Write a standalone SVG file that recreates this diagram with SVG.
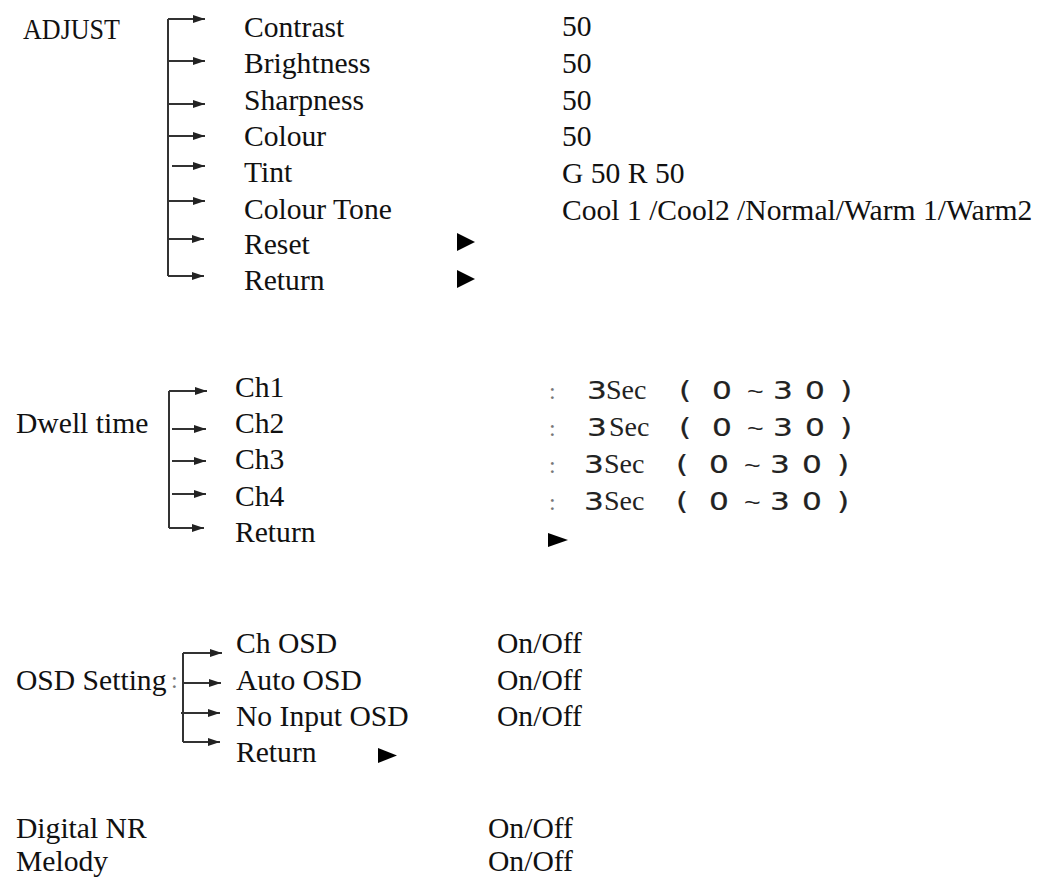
<svg xmlns="http://www.w3.org/2000/svg" width="1039" height="879" viewBox="0 0 1039 879">
<style>
text{font-family:"Liberation Serif","Times New Roman",serif;font-size:29.6px;fill:#111}
.num{font-family:"DejaVu Sans","Liberation Sans",sans-serif;font-size:24px;fill:#222;stroke:#222;stroke-width:0.2}
.sec{font-family:"Liberation Serif",serif;font-size:28px;fill:#222}
.til{font-family:"Liberation Sans",sans-serif;font-size:22px;fill:#222}
.col{font-size:24px;fill:#777}
.ln{stroke:#333;stroke-width:2;fill:none}
.ar{stroke:#333;stroke-width:2;fill:none;marker-end:url(#ah)}
.tri{fill:#000}
</style>
<defs>
<marker id="ah" markerUnits="userSpaceOnUse" viewBox="0 0 12 8" refX="12" refY="4" markerWidth="12" markerHeight="8" orient="auto">
<path d="M0,0 L12,4 L0,8 Z" fill="#222"/>
</marker>
</defs>
<rect width="1039" height="879" fill="#fff"/>

<g id="connectors">
<path class="ln" d="M168,19 V276"/>
<path class="ar" d="M168,19 H205"/>
<path class="ar" d="M168,61 H205"/>
<path class="ar" d="M168,104 H205"/>
<path class="ar" d="M168,136 H205"/>
<path class="ar" d="M172,166 H205"/>
<path class="ar" d="M168,201 H205"/>
<path class="ar" d="M168,239 H204"/>
<path class="ar" d="M168,276 H204"/>
<path class="ln" d="M169,391 V528"/>
<path class="ar" d="M169,391 H207"/>
<path class="ar" d="M172,429 H206"/>
<path class="ar" d="M172,461 H206"/>
<path class="ar" d="M172,494 H206"/>
<path class="ar" d="M169,528 H204"/>
<path class="ln" d="M183,653 V742"/>
<path class="ar" d="M183,653 H222"/>
<path class="ar" d="M183,683 H221"/>
<path class="ar" d="M181,713 H220"/>
<path class="ar" d="M183,742 H220"/>
</g>

<g id="adjust">
<text x="23" y="39" textLength="97" lengthAdjust="spacingAndGlyphs" font-size="27">ADJUST</text>
</g>
<g id="adjust-items">
<text x="244" y="37">Contrast</text>
<text x="244" y="73">Brightness</text>
<text x="244" y="110">Sharpness</text>
<text x="244" y="146">Colour</text>
<text x="244" y="182">Tint</text>
<text x="244" y="219">Colour Tone</text>
<text x="244" y="254">Reset</text>
<text x="244" y="290">Return</text>
<path class="tri" d="M457,233 L475,242 L457,251 Z"/>
<path class="tri" d="M457,270 L475,279 L457,288 Z"/>
</g>
<g id="adjust-values">
<text x="562" y="36">50</text>
<text x="562" y="73">50</text>
<text x="562" y="110">50</text>
<text x="562" y="146">50</text>
<text x="562" y="183">G 50 R 50</text>
<text x="562" y="220">Cool 1 /Cool2 /Normal/Warm 1/Warm2</text>
</g>

<g id="dwell">
<text x="16" y="433">Dwell time</text>
</g>
<g id="dwell-items">
<text x="235" y="397">Ch1</text>
<text x="235" y="433">Ch2</text>
<text x="235" y="469">Ch3</text>
<text x="235" y="506">Ch4</text>
<text x="235" y="542">Return</text>
<path class="tri" d="M548,533 L568,540 L548,547 Z"/>
</g>
<g id="dwell-values">
<text class="col" x="549" y="399">:</text>
<text class="col" x="549" y="436">:</text>
<text class="col" x="549" y="473">:</text>
<text class="col" x="549" y="510">:</text>
<text class="sec" x="606" y="399">Sec</text>
<text class="sec" x="609" y="436">Sec</text>
<text class="sec" x="604" y="473">Sec</text>
<text class="sec" x="604" y="510">Sec</text>
<g transform="translate(0,399) scale(1.3,1)">
<text y="0"><tspan class="num" x="451.5">3</tspan><tspan class="num" x="522.3">(</tspan><tspan class="num" x="547.7">0</tspan><tspan class="til" x="574.6">~</tspan><tspan class="num" x="594.6">3</tspan><tspan class="num" x="619.2">0</tspan><tspan class="num" x="646.2">)</tspan></text>
</g>
<g transform="translate(0,436) scale(1.3,1)">
<text y="0"><tspan class="num" x="451.5">3</tspan><tspan class="num" x="522.3">(</tspan><tspan class="num" x="547.7">0</tspan><tspan class="til" x="574.6">~</tspan><tspan class="num" x="594.6">3</tspan><tspan class="num" x="619.2">0</tspan><tspan class="num" x="646.2">)</tspan></text>
</g>
<g transform="translate(-3,473) scale(1.3,1)">
<text y="0"><tspan class="num" x="451.5">3</tspan><tspan class="num" x="522.3">(</tspan><tspan class="num" x="547.7">0</tspan><tspan class="til" x="574.6">~</tspan><tspan class="num" x="594.6">3</tspan><tspan class="num" x="619.2">0</tspan><tspan class="num" x="646.2">)</tspan></text>
</g>
<g transform="translate(-3,510) scale(1.3,1)">
<text y="0"><tspan class="num" x="451.5">3</tspan><tspan class="num" x="522.3">(</tspan><tspan class="num" x="547.7">0</tspan><tspan class="til" x="574.6">~</tspan><tspan class="num" x="594.6">3</tspan><tspan class="num" x="619.2">0</tspan><tspan class="num" x="646.2">)</tspan></text>
</g>
</g>

<g id="osd">
<text x="16" y="690">OSD Setting</text>
<text class="col" x="171" y="688" font-size="18">:</text>
</g>
<g id="osd-items">
<text x="236" y="653">Ch OSD</text>
<text x="236" y="690">Auto OSD</text>
<text x="236" y="726">No Input OSD</text>
<text x="236" y="762">Return</text>
<path class="tri" d="M378,748 L397,755.5 L378,763 Z"/>
</g>
<g id="osd-values">
<text x="497" y="653">On/Off</text>
<text x="497" y="690">On/Off</text>
<text x="497" y="726">On/Off</text>
</g>

<g id="digital-nr">
<text x="16" y="838">Digital NR</text>
<text x="488" y="838">On/Off</text>
</g>
<g id="melody">
<text x="16" y="871">Melody</text>
<text x="488" y="871">On/Off</text>
</g>
</svg>
